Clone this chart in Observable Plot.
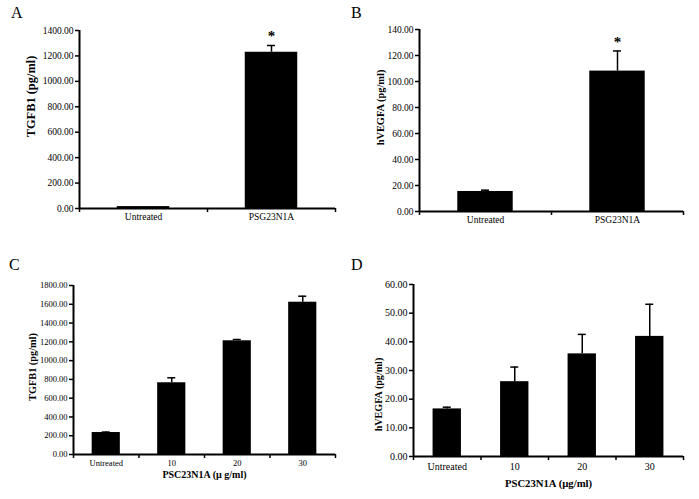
<!DOCTYPE html>
<html><head><meta charset="utf-8">
<script src="https://cdn.jsdelivr.net/npm/d3@7"></script>
<script src="https://cdn.jsdelivr.net/npm/@observablehq/plot@0.6"></script>
<style>
body{margin:0;background:#fff;}
#wrap{position:relative;width:699px;height:499px;overflow:hidden;background:#fff;font-family:"Liberation Serif",serif;}
.panel{position:absolute;}
.letter{position:absolute;font-size:16px;font-family:"Liberation Serif",serif;color:#000;}
</style></head><body><div id="wrap"></div>
<script>
// ---- data ----
const catsAB = ["Untreated", "PSG23N1A"];
const tgfbA = [15, 1229];
const tgfbAErr = [0, 53];
const tgfbAStar = ["", "*"];

const vegfB = [15.4, 108.0];
const vegfBErr = [1.0, 15.5];
const vegfBStar = ["", "*"];

const catsCD = ["Untreated", "10", "20", "30"];
const tgfbC = [234, 764, 1211, 1622];
const tgfbCErr = [5, 53, 14, 64];

const vegfD = [16.6, 26.1, 35.8, 41.9];
const vegfDErr = [0.6, 5.1, 6.8, 11.2];

const ticksA = [0, 200, 400, 600, 800, 1000, 1200, 1400];
const ticksB = [0, 20, 40, 60, 80, 100, 120, 140];
const ticksC = [0, 200, 400, 600, 800, 1000, 1200, 1400, 1600, 1800];
const ticksD = [0, 10, 20, 30, 40, 50, 60];

const wrap = document.getElementById("wrap");

function panel(o) {
  const n = o.cats.length;
  const data = o.cats.map((c, i) => ({i, c, v: o.vals[i], e: o.errs[i], s: o.stars ? o.stars[i] : ""}));
  const step = (o.width - o.ml - o.mr) / n;
  const inset = step * (1 - o.barFrac) / 2;
  const cap = 4 / step;
  const marks = [
    Plot.rectY(data, {x1: d => d.i, x2: d => d.i + 1, y: "v", fill: "black", insetLeft: inset, insetRight: inset}),
    Plot.ruleX(data.filter(d => d.e > 0), {x: d => d.i + 0.5, y1: "v", y2: d => d.v + d.e, stroke: "black", strokeWidth: 1.5}),
    Plot.ruleY(data.filter(d => d.e > 0), {y: d => d.v + d.e, x1: d => d.i + 0.5 - cap, x2: d => d.i + 0.5 + cap, stroke: "black", strokeWidth: 1.5}),
    Plot.text(data.filter(d => d.s), {x: d => d.i + 0.5, y: d => d.v + d.e, text: "s", dy: -9, fontSize: 15, fontWeight: "bold"}),
    Plot.axisY({ticks: o.ticks, tickFormat: d => d.toFixed(2), tickSize: 4, tickPadding: 2, fontSize: o.tickFont, label: null, strokeWidth: 1.5}),
    Plot.axisX({ticks: d3.range(n + 1), tickFormat: () => "", tickSize: 4, label: null, strokeWidth: 1.5}),
    Plot.axisX({ticks: o.cats.map((c, i) => i + 0.5), tickFormat: v => o.cats[Math.floor(v)], tickSize: 0, tickPadding: o.tickPad, fontSize: o.tickFont, label: null}),
    Plot.ruleX([0], {stroke: "black", strokeWidth: 2}),
    Plot.ruleY([0], {stroke: "black", strokeWidth: 2}),
    Plot.text([o.ylabel], {frameAnchor: "left", textAnchor: "middle", rotate: -90, dx: o.ylabelDx, dy: o.ylabelDy, fontSize: o.ylabelFont, fontWeight: "bold"})
  ];
  if (o.xlabel) marks.push(Plot.text([o.xlabel], {frameAnchor: "bottom", textAnchor: "middle", dy: o.xlabelDy, fontSize: o.xlabelFont, fontWeight: "bold"}));
  const svg = Plot.plot({
    width: o.width, height: o.height,
    marginLeft: o.ml, marginRight: o.mr, marginTop: o.mt, marginBottom: o.mb,
    x: {type: "linear", domain: [0, n], axis: null},
    y: {domain: [0, o.ticks[o.ticks.length - 1]], axis: null},
    style: {fontFamily: "'Liberation Serif', serif", fontSize: "10px", background: "transparent", color: "black", overflow: "visible"},
    marks
  });
  const div = document.createElement("div");
  div.className = "panel";
  div.style.left = o.left + "px";
  div.style.top = o.top + "px";
  div.appendChild(svg);
  wrap.appendChild(div);
  const L = document.createElement("div");
  L.className = "letter";
  L.textContent = o.letter;
  L.style.left = o.letterX + "px";
  L.style.top = o.letterY + "px";
  wrap.appendChild(L);
}

panel({letter: "A", letterX: 11, letterY: 4, left: 0, top: 0, width: 345, height: 235, ml: 79, mr: 10, mt: 30, mb: 27,
  cats: catsAB, vals: tgfbA, errs: tgfbAErr, stars: tgfbAStar, ticks: ticksA, barFrac: 0.41, tickFont: 9.5, tickPad: 5,
  ylabel: "TGFB1 (pg/ml)", ylabelDx: -48, ylabelDy: -23, ylabelFont: 12.4});
panel({letter: "B", letterX: 351, letterY: 4, left: 340, top: 0, width: 359, height: 235, ml: 79, mr: 16, mt: 29, mb: 24,
  cats: catsAB, vals: vegfB, errs: vegfBErr, stars: vegfBStar, ticks: ticksB, barFrac: 0.42, tickFont: 9.5, tickPad: 5,
  ylabel: "hVEGFA (pg/ml)", ylabelDx: -39, ylabelDy: -13, ylabelFont: 10.4});
panel({letter: "C", letterX: 9, letterY: 256, left: 0, top: 250, width: 345, height: 249, ml: 73, mr: 10, mt: 35, mb: 45,
  cats: catsCD, vals: tgfbC, errs: tgfbCErr, ticks: ticksC, barFrac: 0.43, tickFont: 8.5, tickPad: 5,
  ylabel: "TGFB1 (pg/ml)", ylabelDx: -41, ylabelDy: -3, ylabelFont: 10.3,
  xlabel: "PSC23N1A (µ g/ml)", xlabelDy: 23, xlabelFont: 10});
panel({letter: "D", letterX: 351, letterY: 256, left: 340, top: 250, width: 359, height: 249, ml: 73, mr: 16, mt: 34, mb: 43,
  cats: catsCD, vals: vegfD, errs: vegfDErr, ticks: ticksD, barFrac: 0.42, tickFont: 10, tickPad: 6,
  ylabel: "hVEGFA (pg/ml)", ylabelDx: -35, ylabelDy: 24, ylabelFont: 10.1,
  xlabel: "PSC23N1A (µg/ml)", xlabelDy: 30, xlabelFont: 10.7});
</script></body></html>
